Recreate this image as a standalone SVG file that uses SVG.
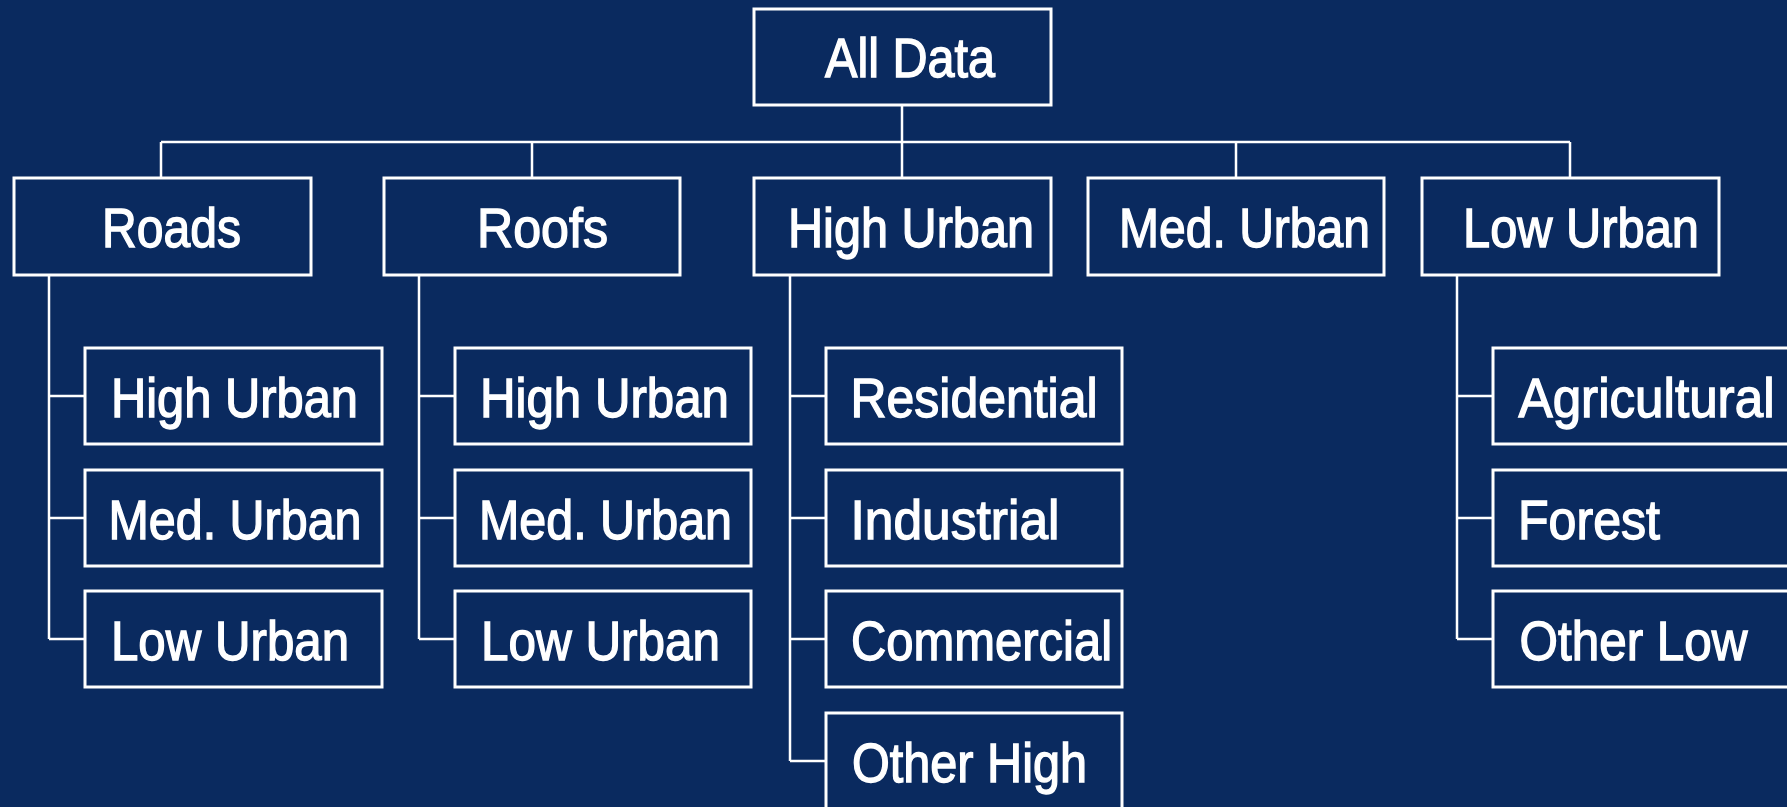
<svg xmlns="http://www.w3.org/2000/svg" width="1787" height="807" viewBox="0 0 1787 807">
  <style>
    .bg { fill: #0a2a5f; }
    .box { fill: #0a2a5f; stroke: #ffffff; stroke-width: 3; }
    .wire { fill: none; stroke: #ffffff; stroke-width: 2.5; }
    .lbl { fill: #ffffff; stroke: #ffffff; stroke-width: 1.4; font-family: "Liberation Sans Narrow", "Liberation Sans", Arial, sans-serif; font-size: 56px; }
  </style>
  <rect class="bg" x="0" y="0" width="1787" height="807"/>

  <!-- connectors -->
  <g id="connectors">
    <!-- root to category bus -->
    <path class="wire" d="M902 105 V142 M161 142 H1570 M161 142 V178 M532 142 V178 M902 142 V178 M1236 142 V178 M1570 142 V178"/>
    <!-- Roads branch -->
    <path class="wire" d="M49 275 V639 M49 396 H85 M49 518 H85 M49 639 H85"/>
    <!-- Roofs branch -->
    <path class="wire" d="M419 275 V639 M419 396 H455 M419 518 H455 M419 639 H455"/>
    <!-- High Urban branch -->
    <path class="wire" d="M790 275 V761 M790 396 H826 M790 518 H826 M790 639 H826 M790 761 H826"/>
    <!-- Low Urban branch -->
    <path class="wire" d="M1457 275 V639 M1457 396 H1493 M1457 518 H1493 M1457 639 H1493"/>
  </g>

  <g id="all-data">
    <rect class="box" x="754" y="9" width="297" height="96"/>
    <text class="lbl" x="825" y="77" textLength="170" lengthAdjust="spacingAndGlyphs">All Data</text>
  </g>

  <g id="roads">
    <rect class="box" x="14" y="178" width="297" height="97"/>
    <text class="lbl" x="102" y="247" textLength="139" lengthAdjust="spacingAndGlyphs">Roads</text>
  </g>
  <g id="roofs">
    <rect class="box" x="384" y="178" width="296" height="97"/>
    <text class="lbl" x="477" y="247" textLength="131" lengthAdjust="spacingAndGlyphs">Roofs</text>
  </g>
  <g id="high-urban">
    <rect class="box" x="754" y="178" width="297" height="97"/>
    <text class="lbl" x="788" y="247" textLength="246" lengthAdjust="spacingAndGlyphs">High Urban</text>
  </g>
  <g id="med-urban">
    <rect class="box" x="1088" y="178" width="296" height="97"/>
    <text class="lbl" x="1119" y="247" textLength="251" lengthAdjust="spacingAndGlyphs">Med. Urban</text>
  </g>
  <g id="low-urban">
    <rect class="box" x="1422" y="178" width="297" height="97"/>
    <text class="lbl" x="1463" y="247" textLength="236" lengthAdjust="spacingAndGlyphs">Low Urban</text>
  </g>

  <!-- Roads children -->
  <g id="roads-high">
    <rect class="box" x="85" y="348" width="297" height="96"/>
    <text class="lbl" x="111" y="416.5" textLength="247" lengthAdjust="spacingAndGlyphs">High Urban</text>
  </g>
  <g id="roads-med">
    <rect class="box" x="85" y="470" width="297" height="96"/>
    <text class="lbl" x="108.5" y="538.5" textLength="253" lengthAdjust="spacingAndGlyphs">Med. Urban</text>
  </g>
  <g id="roads-low">
    <rect class="box" x="85" y="591" width="297" height="96"/>
    <text class="lbl" x="111" y="659.5" textLength="238" lengthAdjust="spacingAndGlyphs">Low Urban</text>
  </g>

  <!-- Roofs children -->
  <g id="roofs-high">
    <rect class="box" x="455" y="348" width="296" height="96"/>
    <text class="lbl" x="480" y="416.5" textLength="249" lengthAdjust="spacingAndGlyphs">High Urban</text>
  </g>
  <g id="roofs-med">
    <rect class="box" x="455" y="470" width="296" height="96"/>
    <text class="lbl" x="479" y="538.5" textLength="253" lengthAdjust="spacingAndGlyphs">Med. Urban</text>
  </g>
  <g id="roofs-low">
    <rect class="box" x="455" y="591" width="296" height="96"/>
    <text class="lbl" x="481" y="659.5" textLength="239" lengthAdjust="spacingAndGlyphs">Low Urban</text>
  </g>

  <!-- High Urban children -->
  <g id="residential">
    <rect class="box" x="826" y="348" width="296" height="96"/>
    <text class="lbl" x="850.5" y="416.5" textLength="247" lengthAdjust="spacingAndGlyphs">Residential</text>
  </g>
  <g id="industrial">
    <rect class="box" x="826" y="470" width="296" height="96"/>
    <text class="lbl" x="850.5" y="538.5" textLength="209" lengthAdjust="spacingAndGlyphs">Industrial</text>
  </g>
  <g id="commercial">
    <rect class="box" x="826" y="591" width="296" height="96"/>
    <text class="lbl" x="851" y="659.5" textLength="261" lengthAdjust="spacingAndGlyphs">Commercial</text>
  </g>
  <g id="other-high">
    <rect class="box" x="826" y="713" width="296" height="96"/>
    <text class="lbl" x="852" y="781.5" textLength="235" lengthAdjust="spacingAndGlyphs">Other High</text>
  </g>

  <!-- Low Urban children -->
  <g id="agricultural">
    <rect class="box" x="1493" y="348" width="297" height="96"/>
    <text class="lbl" x="1518.5" y="416.5" textLength="256" lengthAdjust="spacingAndGlyphs">Agricultural</text>
  </g>
  <g id="forest">
    <rect class="box" x="1493" y="470" width="297" height="96"/>
    <text class="lbl" x="1518" y="538.5" textLength="142" lengthAdjust="spacingAndGlyphs">Forest</text>
  </g>
  <g id="other-low">
    <rect class="box" x="1493" y="591" width="297" height="96"/>
    <text class="lbl" x="1519.5" y="659.5" textLength="228" lengthAdjust="spacingAndGlyphs">Other Low</text>
  </g>
</svg>
